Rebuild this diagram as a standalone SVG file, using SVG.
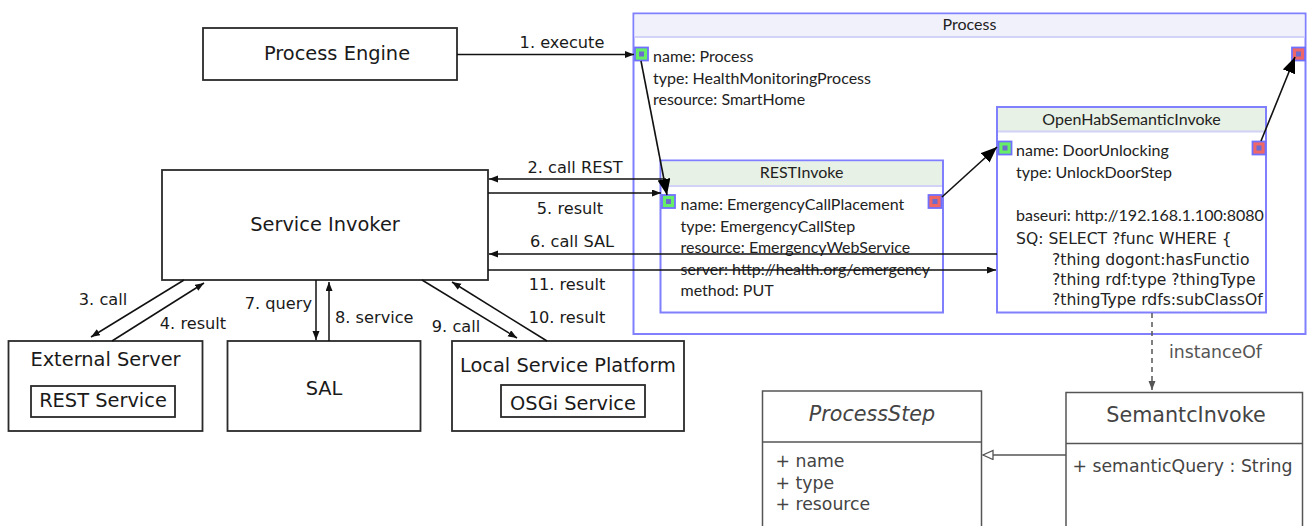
<svg xmlns="http://www.w3.org/2000/svg" width="1307" height="526" viewBox="0 0 1307 526">
  <style>
    .box { fill: #ffffff; stroke: #2a2a2a; stroke-width: 1.8; }
    .lbl { font-family: "DejaVu Sans", sans-serif; font-size: 19.4px; fill: #1a1a1a; text-anchor: middle; }
    .clbl { font-family: "DejaVu Sans", sans-serif; font-size: 16.2px; fill: #1a1a1a; }
    .mid { text-anchor: middle; }
    .end { text-anchor: end; }
    .edge { fill: none; stroke: #111; stroke-width: 1.5; }
    .flow { fill: none; stroke: #111; stroke-width: 1.6; }
    .frame { fill: #ffffff; stroke: #8080ff; stroke-width: 2; }
    .hdr-p { fill: #f1f1fb; }
    .hdr-s { fill: #e8f1e5; }
    .sep { stroke: #d2d2f6; stroke-width: 2; }
    .ptxt { font-family: "Lato", "Liberation Sans", sans-serif; font-size: 16px; fill: #222; }
    .ttl { font-family: "Lato", "Liberation Sans", sans-serif; font-size: 16px; fill: #222; text-anchor: middle; }
    .sq { font-family: "DejaVu Sans", sans-serif; font-size: 15.6px; fill: #222; }
    .pin { fill: #66ee66; stroke: #7070ff; stroke-width: 1.8; }
    .pout { fill: #ee6666; stroke: #7070ff; stroke-width: 1.8; }
    .dot { fill: #6b6bd0; }
    .uml { fill: #ffffff; stroke: #555; stroke-width: 1.5; }
    .umlt { font-family: "DejaVu Sans", sans-serif; font-size: 20.7px; fill: #444; text-anchor: middle; }
    .umla { font-family: "DejaVu Sans", sans-serif; font-size: 17.3px; fill: #444; }
  </style>
  <defs>
    <marker id="arr" markerUnits="userSpaceOnUse" markerWidth="10" markerHeight="8" refX="9" refY="3.5" orient="auto">
      <path d="M0,0 L9,3.5 L0,7 z" fill="#111"/>
    </marker>
    <marker id="big" markerUnits="userSpaceOnUse" markerWidth="18" markerHeight="14" refX="16" refY="6.5" orient="auto">
      <path d="M0,0 L16,6.5 L0,13 z" fill="#000"/>
    </marker>
    <marker id="garr" markerUnits="userSpaceOnUse" markerWidth="10" markerHeight="8" refX="9" refY="3.5" orient="auto">
      <path d="M0,0 L9,3.5 L0,7 z" fill="#555"/>
    </marker>
    <marker id="tri" markerUnits="userSpaceOnUse" markerWidth="14" markerHeight="12" refX="11" refY="5" orient="auto">
      <path d="M1,0.5 L11,5 L1,9.5 z" fill="#fff" stroke="#555" stroke-width="1.3"/>
    </marker>
  </defs>

  <rect width="1307" height="526" fill="#ffffff"/>

  <!-- engine and invoker side -->
  <g id="process-engine">
    <rect class="box" x="203" y="28" width="254" height="52"/>
    <text class="lbl" x="337" y="60">Process Engine</text>
  </g>
  <g id="service-invoker">
    <rect class="box" x="162" y="170" width="326" height="110"/>
    <text class="lbl" x="325" y="231">Service Invoker</text>
  </g>
  <g id="external-server">
    <rect class="box" x="8.5" y="341" width="194" height="90"/>
    <text class="lbl" x="105.5" y="366">External Server</text>
    <rect class="box" x="31" y="386" width="144" height="31"/>
    <text class="lbl" x="103" y="407">REST Service</text>
  </g>
  <g id="sal">
    <rect class="box" x="227.5" y="341" width="193" height="90"/>
    <text class="lbl" x="324" y="395">SAL</text>
  </g>
  <g id="local-service-platform">
    <rect class="box" x="452" y="341" width="232" height="90"/>
    <text class="lbl" x="568" y="372">Local Service Platform</text>
    <rect class="box" x="501" y="385" width="144" height="32"/>
    <text class="lbl" x="573" y="410">OSGi Service</text>
  </g>

  <!-- process model -->
  <g id="process">
    <rect class="frame" x="633.5" y="13.5" width="672" height="320.5"/>
    <rect class="hdr-p" x="634.5" y="14.5" width="670" height="22"/>
    <line class="sep" x1="634.5" y1="37" x2="1304.5" y2="37"/>
    <text class="ttl" x="969.5" y="30">Process</text>
    <text class="ptxt" x="653" y="62">name: Process</text>
    <text class="ptxt" x="653" y="83.5">type: HealthMonitoringProcess</text>
    <text class="ptxt" x="653" y="105">resource: SmartHome</text>
    <rect class="pin" x="635" y="47.5" width="13" height="13"/>
    <rect class="dot" x="639" y="51.5" width="5" height="5"/>
    <rect class="pout" x="1292" y="47.5" width="13" height="13"/>
    <rect class="dot" x="1296" y="51.5" width="5" height="5"/>
  </g>
  <g id="rest-invoke">
    <rect class="frame" x="660.5" y="160.5" width="282.5" height="152"/>
    <rect class="hdr-s" x="661.5" y="161.5" width="280.5" height="24"/>
    <line class="sep" x1="661.5" y1="186" x2="942" y2="186"/>
    <text class="ttl" x="801.5" y="178">RESTInvoke</text>
    <text class="ptxt" x="680.5" y="210">name: EmergencyCallPlacement</text>
    <text class="ptxt" x="680.5" y="231.5">type: EmergencyCallStep</text>
    <text class="ptxt" x="680.5" y="253">resource: EmergencyWebService</text>
    <text class="ptxt" x="680.5" y="274.5">server: http://health.org/emergency</text>
    <text class="ptxt" x="680.5" y="296">method: PUT</text>
    <rect class="pin" x="662" y="195" width="13" height="13"/>
    <rect class="dot" x="666" y="199" width="5" height="5"/>
    <rect class="pout" x="928.5" y="195" width="13" height="13"/>
    <rect class="dot" x="932.5" y="199" width="5" height="5"/>
  </g>
  <g id="openhab-semantic-invoke">
    <rect class="frame" x="997" y="107" width="269" height="205.5"/>
    <rect class="hdr-s" x="998" y="108" width="267" height="23"/>
    <line class="sep" x1="998" y1="131.5" x2="1265" y2="131.5"/>
    <text class="ttl" x="1131.5" y="125">OpenHabSemanticInvoke</text>
    <text class="ptxt" x="1016" y="156">name: DoorUnlocking</text>
    <text class="ptxt" x="1016" y="177.5">type: UnlockDoorStep</text>
    <text class="ptxt" x="1016" y="221">baseuri: http://192.168.1.100:8080</text>
    <text class="sq" x="1016" y="244">SQ: SELECT ?func WHERE {</text>
    <text class="sq" x="1052" y="265">?thing dogont:hasFunctio</text>
    <text class="sq" x="1052" y="285">?thing rdf:type ?thingType</text>
    <text class="sq" x="1052" y="305">?thingType rdfs:subClassOf</text>
    <rect class="pin" x="998.5" y="141.5" width="13" height="13"/>
    <rect class="dot" x="1002.5" y="145.5" width="5" height="5"/>
    <rect class="pout" x="1252.5" y="141.5" width="13" height="13"/>
    <rect class="dot" x="1256.5" y="145.5" width="5" height="5"/>
  </g>

  <!-- class model -->
  <g id="process-step">
    <rect class="uml" x="762.5" y="391" width="219" height="150"/>
    <line class="uml" x1="762.5" y1="442" x2="981.5" y2="442"/>
    <text class="umlt" x="872" y="421" font-style="italic">ProcessStep</text>
    <text class="umla" x="775.5" y="467">+ name</text>
    <text class="umla" x="775.5" y="488.5">+ type</text>
    <text class="umla" x="775.5" y="510">+ resource</text>
  </g>
  <g id="semantc-invoke">
    <rect class="uml" x="1066" y="392.5" width="236.5" height="150"/>
    <line class="uml" x1="1066" y1="443.5" x2="1302.5" y2="443.5"/>
    <text class="umlt" x="1186" y="422">SemantcInvoke</text>
    <text class="umla" x="1072.5" y="472">+ semanticQuery : String</text>
  </g>

  <g id="connectors">
    <line class="edge" x1="457" y1="54.5" x2="634" y2="54.5" marker-end="url(#arr)"/>
    <text class="clbl mid" x="562" y="48">1. execute</text>

    <line class="edge" x1="666" y1="179" x2="489" y2="179" marker-end="url(#arr)"/>
    <text class="clbl mid" x="575" y="173">2. call REST</text>
    <line class="edge" x1="488" y1="193" x2="661" y2="193" marker-end="url(#arr)"/>
    <text class="clbl mid" x="570" y="214">5. result</text>
    <line class="edge" x1="997" y1="254" x2="489" y2="254" marker-end="url(#arr)"/>
    <text class="clbl mid" x="572" y="247">6. call SAL</text>
    <line class="edge" x1="488" y1="270" x2="996" y2="270" marker-end="url(#arr)"/>
    <text class="clbl mid" x="567" y="290">11. result</text>

    <line class="edge" x1="184" y1="280" x2="91" y2="337" marker-end="url(#arr)"/>
    <text class="clbl mid" x="103" y="305">3. call</text>
    <line class="edge" x1="112" y1="341" x2="204" y2="283" marker-end="url(#arr)"/>
    <text class="clbl mid" x="193" y="329">4. result</text>

    <line class="edge" x1="316" y1="280" x2="316" y2="340" marker-end="url(#arr)"/>
    <text class="clbl end" x="312" y="309">7. query</text>
    <line class="edge" x1="329" y1="341" x2="329" y2="282" marker-end="url(#arr)"/>
    <text class="clbl" x="335" y="323">8. service</text>

    <line class="edge" x1="422" y1="280" x2="517" y2="338" marker-end="url(#arr)"/>
    <text class="clbl mid" x="456" y="332">9. call</text>
    <line class="edge" x1="547" y1="341" x2="452" y2="282" marker-end="url(#arr)"/>
    <text class="clbl mid" x="567" y="323">10. result</text>

    <line class="flow" x1="641" y1="61" x2="667" y2="195" marker-end="url(#big)"/>
    <line class="flow" x1="942" y1="197" x2="997" y2="147" marker-end="url(#big)"/>
    <line class="flow" x1="1261" y1="141" x2="1295" y2="57" marker-end="url(#big)"/>

    <line x1="1152" y1="313" x2="1152" y2="390" stroke="#555" stroke-width="1.5" stroke-dasharray="5,4" marker-end="url(#garr)"/>
    <text x="1169" y="358" font-family="DejaVu Sans, sans-serif" font-size="17.3px" fill="#555">instanceOf</text>

    <line x1="1066" y1="455" x2="983" y2="455" stroke="#555" stroke-width="1.5" marker-end="url(#tri)"/>
  </g>
</svg>
